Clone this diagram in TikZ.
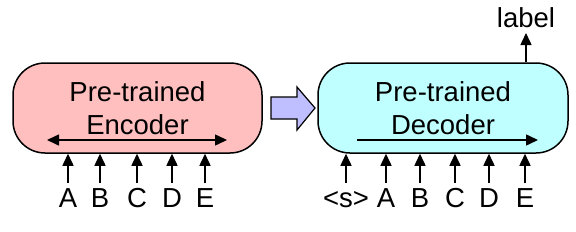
\documentclass[tikz,border=0pt]{standalone}
\usepackage{fontspec}
\setmainfont{Liberation Sans}
\usepackage{xcolor}
\usepackage{tikz}
\usetikzlibrary{positioning,arrows.meta}
\definecolor{encfill}{RGB}{255,191,191}
\definecolor{decfill}{RGB}{191,255,255}
\definecolor{flowfill}{RGB}{191,191,255}

\begin{document}
\begin{tikzpicture}[x=1pt, y=1pt, line width=1.5pt, >={Triangle[length=12pt,width=11pt]}, every node/.style={font=\fontsize{27.5}{33}\selectfont}, block/.style={draw, rounded corners=32pt, align=center, minimum width=249pt, minimum height=90pt, inner sep=0pt}, token/.style={anchor=base, inner sep=0pt, outer sep=4pt, text height=20pt, text depth=0pt}]
\useasboundingbox (0,0) rectangle (576,231);
\node[block, fill=encfill] (enc) at (137.5,123) {Pre-trained\\Encoder};
\node[block, fill=decfill, minimum width=250pt] (dec) at (443,123) {Pre-trained\\Decoder};
\coordinate (encL) at (47,91); \coordinate (encR) at (227,91);
\coordinate (decL) at (357,91); \coordinate (decR) at (538,91);
\draw[<->] (encL) -- (encR); \draw[->] (decL) -- (decR);
\draw[fill=flowfill, line width=1.2pt] (271,134) -- (297,134) -- (297,144) -- (315,123) -- (297,101) -- (297,112) -- (271,112) -- cycle;
\foreach \t/\x in {A/68,B/100,C/137,D/172,E/205} {
  \node[token] (e\t) at (\x,24) {\t}; \draw[->] (e\t) -- (e\t |- enc.south);
}
\foreach \n/\x/\t in {s/346/{<s>},A/386/A,B/420/B,C/455/C,D/489/D,E/525/E} {
  \node[token] (d\n) at (\x,24) {\t}; \draw[->] (d\n) -- (d\n |- dec.south);
}
\node[token, outer sep=6pt] (lbl) at (526,204) {label};
\draw[->] (lbl |- dec.north) -- (lbl);
\end{tikzpicture}
\end{document}
